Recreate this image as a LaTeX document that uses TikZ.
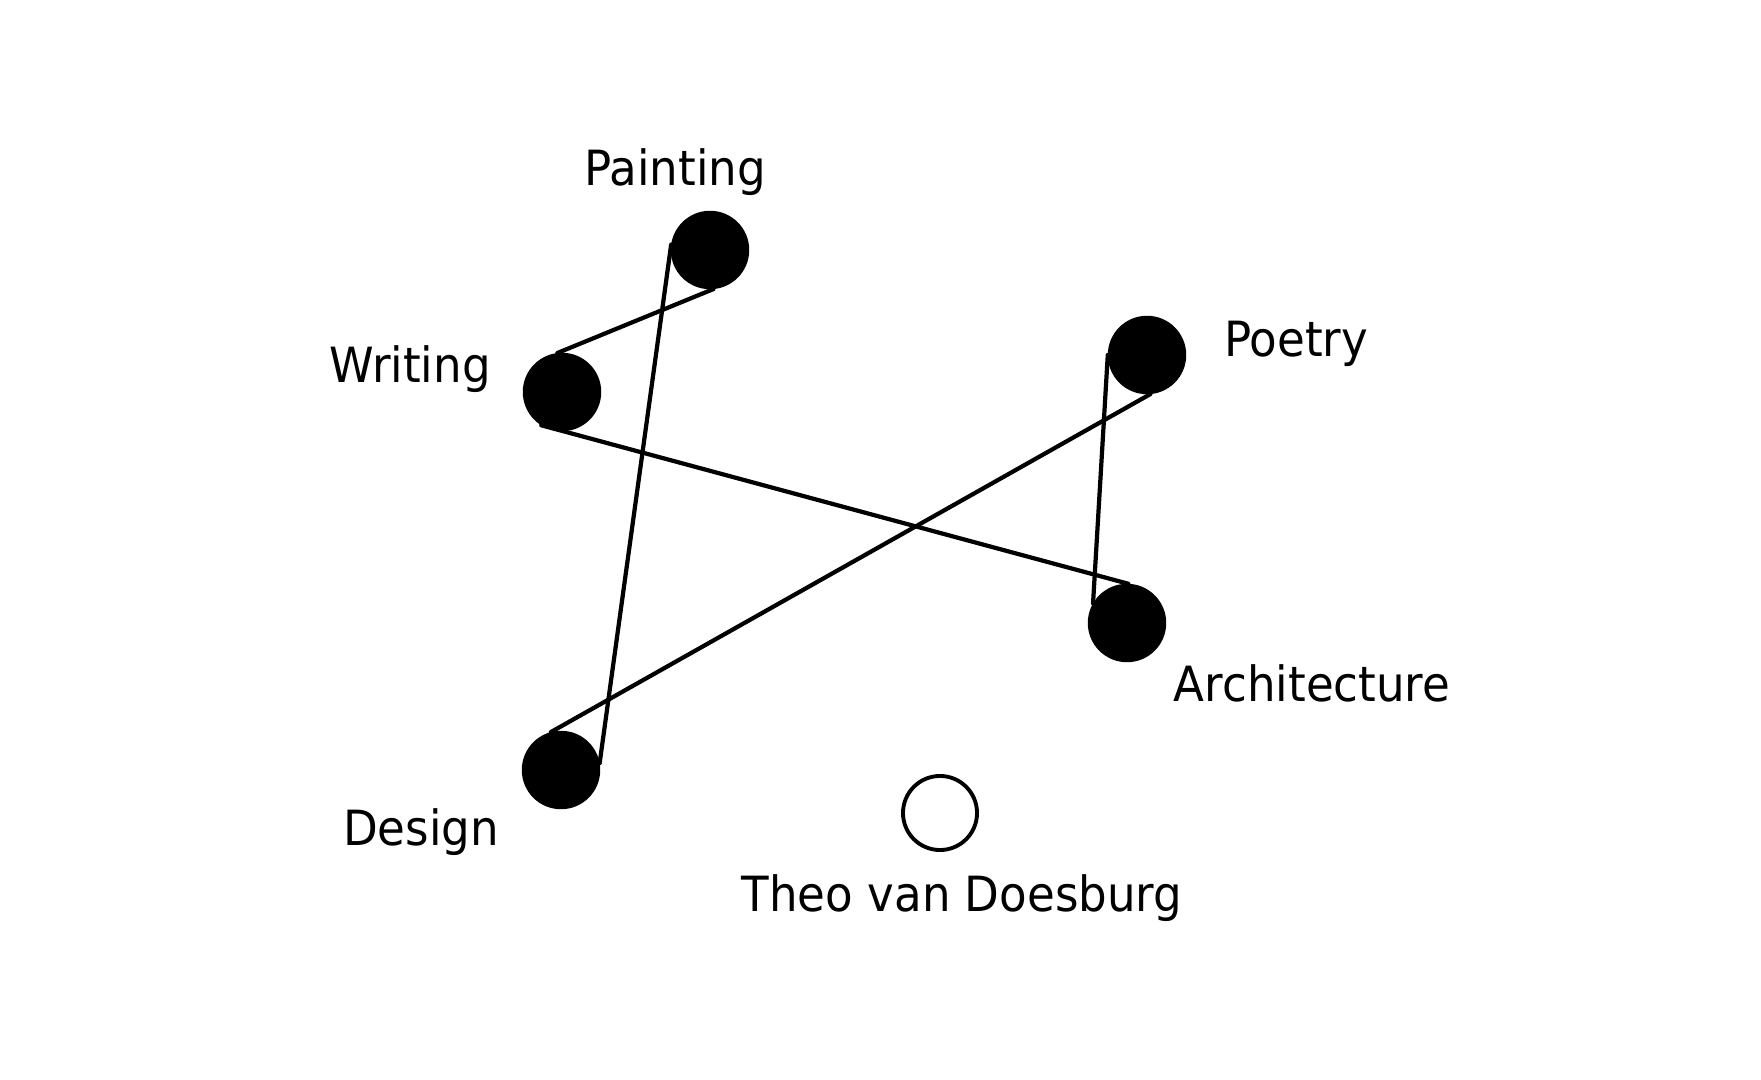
\documentclass[tikz,border=0pt]{standalone}
\usepackage{fontspec}
\setmainfont{DejaVu Sans}[FakeStretch=0.93]
\begin{document}
\begin{tikzpicture}[x=0.01cm,y=-0.01cm,
  dot/.style={circle,fill=black,draw=black,minimum size=0.77cm,inner sep=0pt},
  hollow/.style={circle,draw=black,line width=1.1pt,fill=white,minimum size=0.74cm,inner sep=0pt},
  lbl/.style={font=\fontsize{13.8}{16}\selectfont,inner sep=0pt},
  belt/.style={line width=1.2pt,line cap=round}]
\useasboundingbox (0,0) rectangle (1761,1080);
\node[dot] (paint) at (710,250) {};
\node[dot] (write) at (562,392) {};
\node[dot] (poet) at (1147,355) {};
\node[dot] (arch) at (1127,623) {};
\node[dot] (des) at (561,770) {};
\node[hollow] (theo) at (940,813) {};
\node[lbl] (lpaint) at (675,172) {Painting};
\node[lbl] (lwrite) at (410,369) {Writing};
\node[lbl] (lpoet) at (1296,344) {Poetry};
\node[lbl] (larch) at (1312,683) {Architecture};
\node[lbl] (ldes) at (421,832) {Design};
\node[lbl] (ltheo) at (962,898) {Theo van Doesburg};
\draw[belt] (paint.-85) -- (write.97);
\draw[belt] (write.238) -- (arch.88);
\draw[belt] (arch.150) -- (poet.180);
\draw[belt] (poet.-85) -- (des.105);
\draw[belt] (des.10) -- (paint.172);
\end{tikzpicture}
\end{document}
